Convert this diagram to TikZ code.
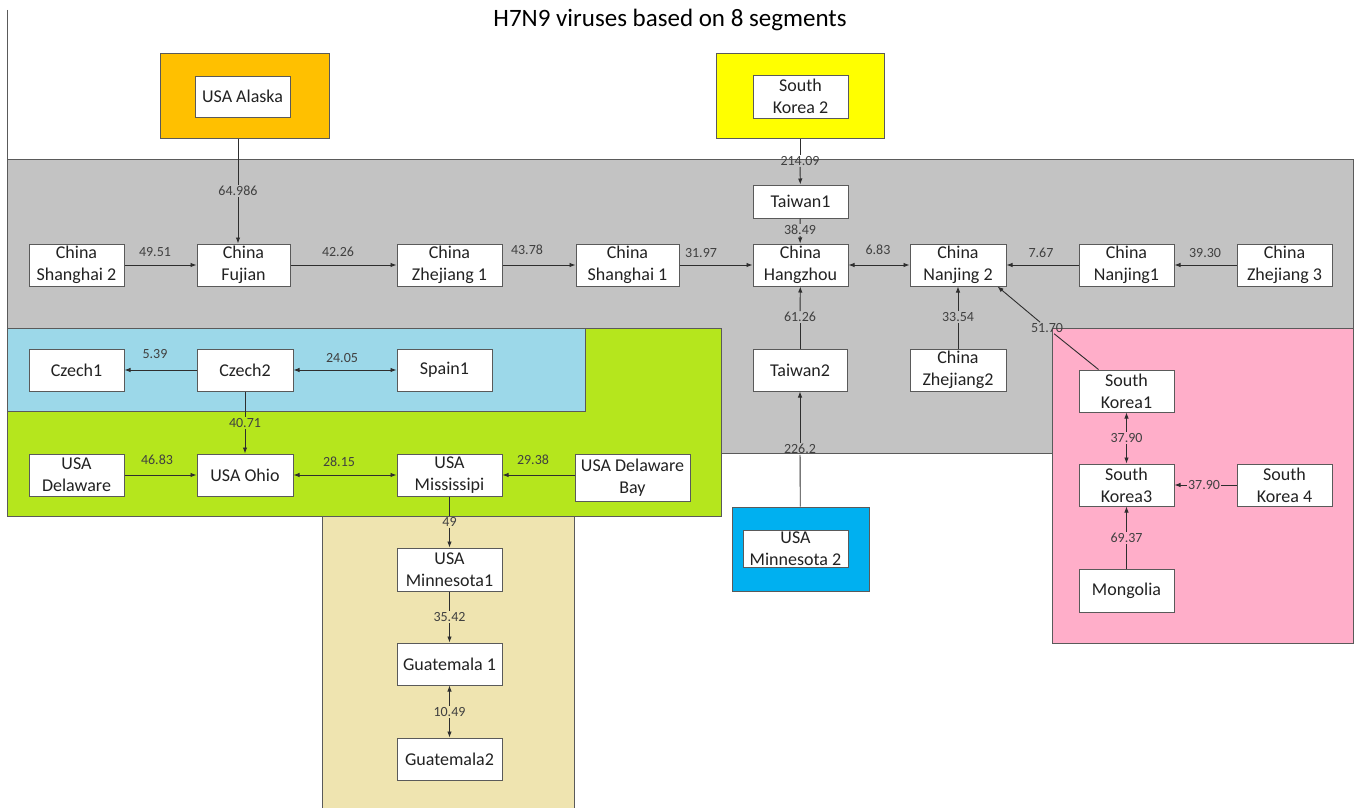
\documentclass[tikz,border=0pt]{standalone}
\usepackage{fontspec}
\setmainfont{Carlito}
\usetikzlibrary{arrows.meta,calc}
\definecolor{regGray}{HTML}{C3C3C3}
\definecolor{regPink}{HTML}{FFAEC9}
\definecolor{regGreen}{HTML}{B5E61D}
\definecolor{regLBlue}{HTML}{9CD8E9}
\definecolor{regTan}{HTML}{EFE4B0}
\definecolor{regOrange}{HTML}{FFC000}
\definecolor{regYellow}{HTML}{FFFF00}
\definecolor{regBlue}{HTML}{00B0F0}
\definecolor{edgeLine}{HTML}{5A5A5A}
\definecolor{connCol}{HTML}{2E2E2E}
\definecolor{txtCol}{HTML}{222222}
\definecolor{lblCol}{HTML}{404040}
\begin{document}
\begin{tikzpicture}[x=1pt,y=-1pt,
  region/.style={draw=edgeLine,line width=1pt},
  box/.style={draw=edgeLine,fill=white,line width=1pt,inner sep=0pt,align=center,
    font=\fontsize{18}{22}\selectfont,text=txtCol},
  outerbox/.style={draw=edgeLine,line width=1pt,inner sep=0pt},
  lbl/.style={font=\fontsize{14}{16}\selectfont,text=lblCol,inner sep=1pt},
  conn/.style={draw=connCol,line width=0.9pt},
  arr/.style={conn,-{Latex[length=6pt,width=4.5pt]}},
  barr/.style={conn,{Latex[length=6pt,width=4.5pt]}-{Latex[length=6pt,width=4.5pt]}}]
\useasboundingbox (0,0) rectangle (1354,808);
% title
\node[font=\fontsize{25}{30}\selectfont,text=black] (title) at (670,20) {H7N9 viruses based on 8 segments};
% left rule
\draw[region] (7,10) -- (7,159);
% regions
\draw[region,fill=regGray] (7,159) rectangle (1353,453);
\draw[region,fill=regPink] (1052,328) rectangle (1353,643);
\draw[region,fill=regTan] (322,516) rectangle (574,812);
\draw[region,fill=regGreen] (7,328) rectangle (721,516);
\draw[region,fill=regLBlue] (7,328) rectangle (585,411);
% outer coloured boxes
\node[outerbox,fill=regOrange,minimum width=169pt,minimum height=84pt] (akout) at (244.5,96) {};
\node[outerbox,fill=regYellow,minimum width=168pt,minimum height=84pt] (skout) at (800,96) {};
\node[outerbox,fill=regBlue,minimum width=137pt,minimum height=84pt] (mnout) at (800.5,549) {};
% boxes
\node[box,minimum width=95pt,minimum height=41pt] (ak) at (242.5,96.5) {USA Alaska};
\node[box,minimum width=95pt,minimum height=43pt] (sk2) at (800.5,96.5) {South\\Korea 2};
\node[box,minimum width=105pt,minimum height=37pt] (mn2) at (795.5,548.5) {USA\\Minnesota 2};
\node[box,minimum width=95pt,minimum height=33pt] (tw1) at (800.5,201.5) {Taiwan1};
\node[box,minimum width=95pt,minimum height=42pt] (sh2) at (76.5,265) {China\\Shanghai 2};
\node[box,minimum width=93pt,minimum height=42pt] (fj) at (243.5,265) {China\\Fujian};
\node[box,minimum width=105pt,minimum height=42pt] (zj1) at (449.5,265) {China\\Zhejiang 1};
\node[box,minimum width=103pt,minimum height=42pt] (sh1) at (627.5,265) {China\\Shanghai 1};
\node[box,minimum width=95pt,minimum height=42pt] (hz) at (800.5,265) {China\\Hangzhou};
\node[box,minimum width=96pt,minimum height=42pt] (nj2) at (958,265) {China\\Nanjing 2};
\node[box,minimum width=95pt,minimum height=42pt] (nj1) at (1126.5,265) {China\\Nanjing1};
\node[box,minimum width=95pt,minimum height=42pt] (zj3) at (1284.5,265) {China\\Zhejiang 3};
\node[box,minimum width=96pt,minimum height=42pt] (zj2) at (958,370) {China\\Zhejiang2};
\node[box,minimum width=94pt,minimum height=42pt] (tw2) at (800,370) {Taiwan2};
\node[box,minimum width=95pt,minimum height=42pt] (sk1) at (1126.5,391) {South\\Korea1};
\node[box,minimum width=95pt,minimum height=42pt] (sk3) at (1126.5,485) {South\\Korea3};
\node[box,minimum width=95pt,minimum height=42pt] (sk4) at (1284.5,485) {South\\Korea 4};
\node[box,minimum width=95pt,minimum height=43pt] (mg) at (1126.5,590.5) {Mongolia};
\node[box,minimum width=95pt,minimum height=42pt] (cz1) at (76.5,370) {Czech1};
\node[box,minimum width=96pt,minimum height=42pt] (cz2) at (245,370) {Czech2};
\node[box,minimum width=95pt,minimum height=42pt] (sp1) at (444.5,370) {Spain1};
\node[box,minimum width=95pt,minimum height=42pt] (de) at (76.5,475) {USA\\Delaware};
\node[box,minimum width=96pt,minimum height=42pt] (oh) at (245,475) {USA Ohio};
\node[box,minimum width=105pt,minimum height=42pt] (ms) at (449.5,475) {USA\\Mississipi};
\node[box,minimum width=115pt,minimum height=47pt] (db) at (632.5,477.5) {USA Delaware\\Bay};
\node[box,minimum width=105pt,minimum height=43pt] (mn1) at (449.5,569.5) {USA\\Minnesota1};
\node[box,minimum width=105pt,minimum height=42pt] (gt1) at (449.5,664) {Guatemala 1};
\node[box,minimum width=105pt,minimum height=42pt] (gt2) at (449.5,759) {Guatemala2};
% labels
\node[lbl] (l4951) at (155,252) {49.51};
\node[lbl] (l4226) at (338,252) {42.26};
\node[lbl] (l4378) at (527,250) {43.78};
\node[lbl] (l3197) at (701,253) {31.97};
\node[lbl] (l683) at (878,250) {6.83};
\node[lbl] (l767) at (1041,253) {7.67};
\node[lbl] (l3930) at (1205,253) {39.30};
\node[lbl] (l64986) at (238,191) {64.986};
\node[lbl] (l21409) at (800,161) {214.09};
\node[lbl] (l3849) at (800,230) {38.49};
\node[lbl] (l6126) at (800,317) {61.26};
\node[lbl] (l3354) at (958,317) {33.54};
\node[lbl] (l2262) at (800,449) {226.2};
\node[lbl] (l5170) at (1047,328) {51.70};
\node[lbl] (l3790a) at (1126.5,438) {37.90};
\node[lbl] (l3790b) at (1204,485) {37.90};
\node[lbl] (l6937) at (1126.5,538) {69.37};
\node[lbl] (l539) at (155,354) {5.39};
\node[lbl] (l2405) at (342,358) {24.05};
\node[lbl] (l4071) at (245,423) {40.71};
\node[lbl] (l4683) at (157,460) {46.83};
\node[lbl] (l2815) at (339,462) {28.15};
\node[lbl] (l2938) at (533,460) {29.38};
\node[lbl] (l49) at (449.5,522) {49};
\node[lbl] (l3542) at (449.5,617) {35.42};
\node[lbl] (l1049) at (449.5,712) {10.49};
% helper coordinates for the diagonal
\coordinate (sk1start) at ($(sk1.north west)+(20,0)$);
\coordinate (nj2end) at ($(nj2.south east)+(-9,0)$);
% horizontal connectors
\draw[arr] (sh2) -- (fj);
\draw[arr] (fj) -- (zj1);
\draw[arr] (zj1) -- (sh1);
\draw[arr] (sh1) -- (hz);
\draw[barr] (hz) -- (nj2);
\draw[arr] (nj1) -- (nj2);
\draw[arr] (zj3) -- (nj1);
\draw[arr] (cz2) -- (cz1);
\draw[barr] (cz2) -- (sp1);
\draw[arr] (de) -- (oh);
\draw[barr] (oh) -- (ms);
\draw[arr] (db.west |- ms.east) -- (ms.east);
% vertical connectors split by labels
\draw[conn] (l64986 |- akout.south) -- (l64986);
\draw[arr] (l64986) -- (l64986 |- fj.north);
\draw[conn] (skout) -- (l21409);
\draw[arr] (l21409) -- (tw1);
\draw[conn] (tw1) -- (l3849);
\draw[arr] (l3849) -- (hz);
\draw[conn] (tw2) -- (l6126);
\draw[arr] (l6126) -- (hz);
\draw[conn] (zj2) -- (l3354);
\draw[arr] (l3354) -- (nj2);
\draw[conn] (mnout) -- (l2262);
\draw[arr] (l2262) -- (tw2);
\draw[conn] (sk1start) -- (l5170);
\draw[arr] (l5170) -- (nj2end);
\draw[arr] (l3790a) -- (sk1);
\draw[arr] (l3790a) -- (sk3);
\draw[conn] (sk4) -- (l3790b);
\draw[arr] (l3790b) -- (sk3);
\draw[conn] (mg) -- (l6937);
\draw[arr] (l6937) -- (sk3);
\draw[conn] (cz2) -- (l4071);
\draw[arr] (l4071) -- (oh);
\draw[conn] (ms) -- (l49);
\draw[arr] (l49) -- (mn1);
\draw[conn] (mn1) -- (l3542);
\draw[arr] (l3542) -- (gt1);
\draw[arr] (l1049) -- (gt1);
\draw[arr] (l1049) -- (gt2);
\end{tikzpicture}
\end{document}
